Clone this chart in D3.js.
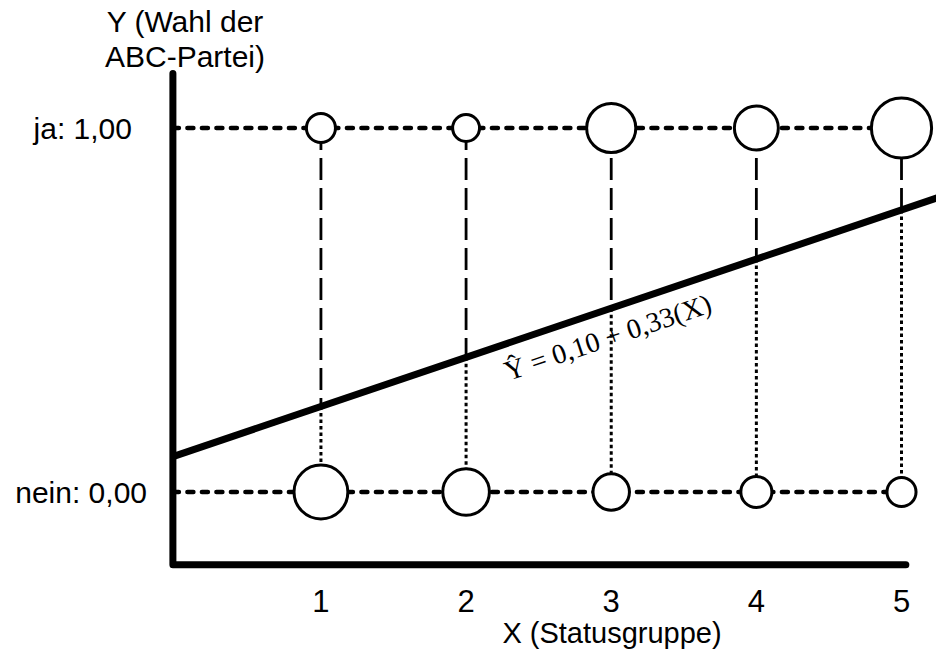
<!DOCTYPE html>
<html>
<head>
<meta charset="utf-8">
<script src="https://cdn.jsdelivr.net/npm/d3@7"></script>
<style>
  body { margin: 0; background: #fff; }
  svg { display: block; }
</style>
</head>
<body>
<div id="chart-container"></div>
<script>
// binary outcome (ABC-Partei ja/nein) by Statusgruppe, circle area = frequency

const groups = [1, 2, 3, 4, 5];
const countYes = [7, 6, 20, 16, 30];   // Y = 1
const countNo = [24, 18, 11, 8, 7];    // Y = 0
const xTickLabels = ["1", "2", "3", "4", "5"];
const yValues = [1, 0];
const yTickLabels = ["ja: 1,00", "nein: 0,00"];
const titleLines = ["Y (Wahl der", "ABC-Partei)"];
const xTitle = "X (Statusgruppe)";
const equation = "Ŷ = 0,10 + 0,33(X)";
// line as it is drawn in the picture
const lineIntercept = 0.10;
const lineSlope = 0.135;

const svgWidth = 936;
const svgHeight = 655;

const svg = d3.select("#chart-container")
    .append("svg")
    .attr("width", svgWidth)
    .attr("height", svgHeight);

const scaleX = d3.scaleLinear().domain([0, 5]).range([175.8, 901.5]);
const scaleY = d3.scaleLinear().domain([0, 1]).range([492, 128]);
const sizeScale = d3.scaleSqrt().domain([0, 30]).range([0, 30.1]);

const sans = "'Liberation Sans', Arial, sans-serif";
const serif = "'Liberation Serif', 'Times New Roman', serif";

const lineY = x => lineIntercept + lineSlope * x;

// horizontal dashed rows at Y = 1 and Y = 0
svg.selectAll("line.row")
    .data(yValues)
    .enter()
    .append("line")
    .attr("class", "row")
    .attr("x1", scaleX(-0.02))
    .attr("x2", scaleX(5))
    .attr("y1", d => scaleY(d))
    .attr("y2", d => scaleY(d))
    .attr("stroke", "#000")
    .attr("stroke-width", 4.5)
    .attr("stroke-linecap", "round")
    .attr("stroke-dasharray", "6,8.5");

// vertical connectors: long dashes above the line, dots below
svg.selectAll("line.upper")
    .data(groups)
    .enter()
    .append("line")
    .attr("class", "upper")
    .attr("x1", d => scaleX(d))
    .attr("x2", d => scaleX(d))
    .attr("y1", scaleY(1))
    .attr("y2", d => scaleY(lineY(d)))
    .attr("stroke", "#000")
    .attr("stroke-width", 2.8)
    .attr("stroke-dasharray", "22,8");

svg.selectAll("line.lower")
    .data(groups)
    .enter()
    .append("line")
    .attr("class", "lower")
    .attr("x1", d => scaleX(d))
    .attr("x2", d => scaleX(d))
    .attr("y1", d => scaleY(lineY(d)))
    .attr("y2", scaleY(0))
    .attr("stroke", "#000")
    .attr("stroke-width", 3)
    .attr("stroke-dasharray", "3.5,3");

// regression line
svg.append("line")
    .attr("x1", scaleX(-0.03))
    .attr("y1", scaleY(lineY(-0.03)))
    .attr("x2", scaleX(5.4))
    .attr("y2", scaleY(lineY(5.4)))
    .attr("stroke", "#000")
    .attr("stroke-width", 7);

// circles
const yesData = groups.map((g, i) => ({ x: g, y: 1, n: countYes[i] }));
const noData = groups.map((g, i) => ({ x: g, y: 0, n: countNo[i] }));

svg.selectAll("circle.freq")
    .data(yesData.concat(noData))
    .enter()
    .append("circle")
    .attr("class", "freq")
    .attr("cx", d => scaleX(d.x))
    .attr("cy", d => scaleY(d.y))
    .attr("r", d => sizeScale(d.n))
    .attr("fill", "#fff")
    .attr("stroke", "#000")
    .attr("stroke-width", 3);

// axes
svg.append("path")
    .attr("d", d3.line()([
        [scaleX(-0.02), scaleY(1.15)],
        [scaleX(-0.02), scaleY(-0.2)],
        [scaleX(5.03), scaleY(-0.2)]
    ]))
    .attr("fill", "none")
    .attr("stroke", "#000")
    .attr("stroke-width", 7)
    .attr("stroke-linecap", "round")
    .attr("stroke-linejoin", "round");

// x tick labels
svg.selectAll("text.xtick")
    .data(groups)
    .enter()
    .append("text")
    .attr("class", "xtick")
    .attr("x", d => scaleX(d))
    .attr("y", 612)
    .attr("text-anchor", "middle")
    .attr("font-family", sans)
    .attr("font-size", "31px")
    .text((d, i) => xTickLabels[i]);

svg.append("text")
    .attr("x", 612)
    .attr("y", 643)
    .attr("text-anchor", "middle")
    .attr("font-family", sans)
    .attr("font-size", "29px")
    .text(xTitle);

// y tick labels (right ends differ a bit in the original)
const yLabelEnd = [132, 147];
svg.selectAll("text.ytick")
    .data(yValues)
    .enter()
    .append("text")
    .attr("class", "ytick")
    .attr("x", (d, i) => yLabelEnd[i])
    .attr("y", d => scaleY(d) + 11)
    .attr("text-anchor", "end")
    .attr("font-family", sans)
    .attr("font-size", "30px")
    .text((d, i) => yTickLabels[i]);

svg.selectAll("text.ytitle")
    .data(titleLines)
    .enter()
    .append("text")
    .attr("class", "ytitle")
    .attr("x", 185)
    .attr("y", (d, i) => 32 + i * 35)
    .attr("text-anchor", "middle")
    .attr("font-family", sans)
    .attr("font-size", "30px")
    .text(d => d);

// equation label, parallel to the line
const angle = Math.atan2(scaleY(lineY(5)) - scaleY(lineY(0)), scaleX(5) - scaleX(0)) * 180 / Math.PI;
const labX = 2.29;
svg.append("text")
    .attr("transform", `translate(${scaleX(labX)},${scaleY(lineY(labX)) + 38}) rotate(${angle})`)
    .attr("font-family", serif)
    .attr("font-size", "28px")
    .text(equation);
</script>
</body>
</html>
